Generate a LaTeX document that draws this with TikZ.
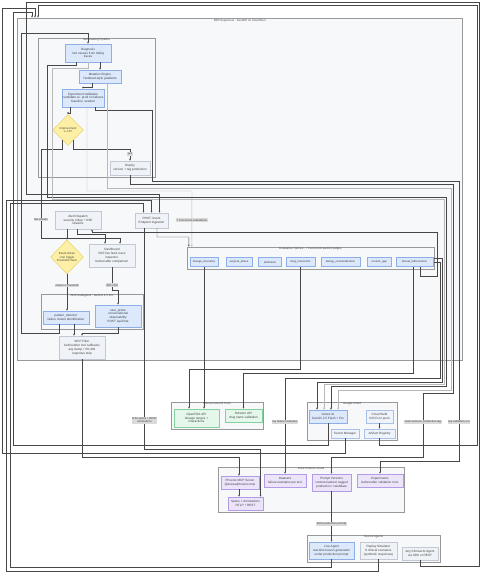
\documentclass[tikz,border=0pt]{standalone}
\usepackage{fontspec}
\setmainfont{Liberation Sans}
\usetikzlibrary{arrows.meta,shapes.geometric}
\pgfdeclarelayer{bg}
\pgfsetlayers{bg,main}
\definecolor{boxblue}{HTML}{DCE8FC}
\definecolor{edgeblue}{HTML}{8DAEE6}
\definecolor{boxgrey}{HTML}{EFF2F6}
\definecolor{edgegrey}{HTML}{C3C9D3}
\definecolor{boxcloud}{HTML}{EEF3FC}
\definecolor{edgecloud}{HTML}{A9C0E8}
\definecolor{boxgreen}{HTML}{E4F7EA}
\definecolor{edgegreen}{HTML}{86CF9F}
\definecolor{boxpurple}{HTML}{ECE4FB}
\definecolor{edgepurple}{HTML}{B49BE6}
\definecolor{boxyellow}{HTML}{FDF0A6}
\definecolor{edgeyellow}{HTML}{E3C952}
\definecolor{clusterfill}{HTML}{F7F8FA}
\definecolor{labelgrey}{HTML}{DADADA}
\tikzset{
	box/.style={draw, line width=0.35pt, align=center, inner sep=0.3pt, text=black!75, font=\fontsize{3.1}{3.8}\selectfont},
	bluebox/.style={box, fill=boxblue, draw=edgeblue},
	greybox/.style={box, fill=boxgrey, draw=edgegrey},
	cloudbox/.style={box, fill=boxcloud, draw=edgecloud},
	greenbox/.style={box, fill=boxgreen, draw=edgegreen},
	purplebox/.style={box, fill=boxpurple, draw=edgepurple},
	judge/.style={bluebox, minimum height=9, font=\fontsize{2.8}{3.4}\selectfont},
	decision/.style={box, shape=diamond, aspect=1, fill=boxyellow, draw=edgeyellow, inner sep=0pt, font=\fontsize{2.9}{3.5}\selectfont},
	cluster/.style={draw=black!40, line width=0.45pt, fill=clusterfill, inner sep=0pt},
	ctitle/.style={font=\fontsize{2.9}{3.4}\selectfont, text=black!70, inner sep=0.6pt, anchor=north},
	link/.style={draw=black!72, line width=0.45pt, -{Latex[length=2pt,width=1.8pt]}},
	faint/.style={link, draw=black!28},
	elabel/.style={fill=labelgrey, text=black!75, font=\fontsize{2.8}{3.3}\selectfont, inner sep=0.6pt, align=center},
}
\begin{document}
\begin{tikzpicture}[x=1pt,y=-1pt]
	\useasboundingbox (0,0) rectangle (481,573);
	\begin{pgfonlayer}{bg}
		\fill[white] (0,0) rectangle (481,573);
		\node[cluster, minimum width=445, minimum height=342] (mio) at (239.5,189) {};
		\node[ctitle] at (240,18.5) {MIO Supervisor · FastAPI on Cloud Run};
		\node[cluster, minimum width=117, minimum height=139] (healing) at (96.5,107.5) {};
		\node[ctitle] at (healing.north) {Self-Healing Pipeline};
		\node[cluster, minimum width=102, minimum height=35] (adk) at (92,311.5) {};
		\node[ctitle] at (adk.north) {ADK Subagents · Gemini 2.5 Pro};
		\node[cluster, minimum width=247, minimum height=22] (evalsvc) at (310.5,258) {};
		\node[ctitle] at (evalsvc.north) {Evaluation Service · 7 concurrent Gemini judges};
		\node[cluster, minimum width=92, minimum height=27] (truth) at (217,415.5) {};
		\node[ctitle] at (truth.north) {Clinical Ground Truth};
		\node[cluster, minimum width=90, minimum height=38] (gcloud) at (352,421) {};
		\node[ctitle] at (gcloud.north) {Google Cloud};
		\node[cluster, minimum width=186, minimum height=45] (phoenix) at (311,489.5) {};
		\node[ctitle] at (phoenix.north) {Arize Phoenix Cloud};
		\node[cluster, minimum width=133, minimum height=27] (sources) at (373.5,548.5) {};
		\node[ctitle] at (sources.north) {Source Agents};
	\end{pgfonlayer}

	\node[bluebox, minimum width=46, minimum height=18] (diag) at (88,53) {Diagnosis\\root causes from failing\\traces};
	\node[bluebox, minimum width=42, minimum height=13] (mutate) at (100,76.5) {Mutation Engine\\TextGrad-style gradients};
	\node[bluebox, minimum width=42, minimum height=18] (expval) at (83,98) {Experiment Validation\\candidate vs. prod on failures\\baseline, seeded};
	\node[decision, minimum width=31, minimum height=31] (improve) at (68,130) {Improvement\\≥ 1.0?};
	\node[greybox, minimum width=40, minimum height=14] (deploy) at (130,168) {Deploy\\version + tag production};

	\node[greybox, minimum width=46, minimum height=18] (alert) at (78,220) {Alert Dispatch\\severity rollup + SSE\\streams};
	\node[greybox, minimum width=33, minimum height=15] (post) at (151.5,220.5) {POST /event\\Endpoint ingestion};
	\node[decision, minimum width=33, minimum height=34] (trigger) at (67,257) {Event-driven\\cron trigger\\threshold check};
	\node[greybox, minimum width=46, minimum height=23] (dash) at (112,255.5) {Dashboard\\SSE live feed, trace\\inspector,\\before/after comparison};
	\node[bluebox, minimum width=46, minimum height=13] (pattern) at (66,317.5) {pattern\_detector\\failure cluster identification};
	\node[bluebox, minimum width=46, minimum height=22] (probe) at (118,316) {user\_probe\\conversational\\observability\\POST /api/chat};
	\node[greybox, minimum width=46, minimum height=23] (mcpf) at (82,347.5) {MCP Filter\\before/after tool callbacks\\arg clamp + 50-400\\response strip};

	\node[judge, minimum width=28] (dosage) at (204,262) {dosage\_boundary};
	\node[judge, minimum width=26] (surgical) at (239,262) {surgical\_phase};
	\node[judge, minimum width=23] (attrib) at (270,262) {attribution};
	\node[judge, minimum width=29] (drug) at (300.5,262) {drug\_interaction};
	\node[judge, minimum width=39] (allergy) at (340.5,262) {allergy\_contraindication};
	\node[judge, minimum width=24] (gap) at (379,262) {content\_gap};
	\node[judge, minimum width=37] (factual) at (414.5,262) {factual\_hallucination};

	\node[greenbox, minimum width=45, minimum height=18] (openfda) at (196.5,418) {OpenFDA API\\dosage ranges +\\interactions};
	\node[greenbox, minimum width=37, minimum height=13] (rxnorm) at (243.5,415.5) {RxNorm API\\drug name validation};

	\node[bluebox, minimum width=38, minimum height=13] (vertex) at (328,416.5) {Vertex AI\\Gemini 2.5 Flash + Pro};
	\node[cloudbox, minimum width=27, minimum height=13] (cbuild) at (379.5,416.5) {Cloud Build\\CI/CD on push};
	\node[cloudbox, minimum width=28, minimum height=9] (secret) at (345,433.5) {Secret Manager};
	\node[cloudbox, minimum width=31, minimum height=9] (artreg) at (379.5,433.5) {Artifact Registry};

	\node[purplebox, minimum width=38, minimum height=13] (pmcp) at (240,482.5) {Phoenix MCP Server\\@arizeai/phoenix-mcp};
	\node[purplebox, minimum width=42, minimum height=13] (datasets) at (285,480.5) {Datasets\\failure examples per tool};
	\node[purplebox, minimum width=39, minimum height=17] (pversions) at (331.5,482.5) {Prompt Versions\\content-hashed, tagged\\production / candidate};
	\node[purplebox, minimum width=46, minimum height=13] (experiments) at (380,480.5) {Experiments\\before/after validation runs};
	\node[purplebox, minimum width=35, minimum height=13] (spans) at (245.5,503.5) {Spans + Annotations\\OTLP + REST};

	\node[bluebox, minimum width=45, minimum height=17] (live) at (331.5,550.5) {Live Agent\\real-time lesson generation\\under production prompt};
	\node[greybox, minimum width=37, minimum height=17] (replay) at (378.5,550.5) {Replay Simulator\\8 clinical scenarios\\(synthetic responses)};
	\node[greybox, minimum width=36, minimum height=13] (anyagent) at (420,553.5) {Any Clinical AI Agent\\via SDK or REST};

	\draw[link] ([xshift=12]diag.south) -- ([xshift=12]diag.south |- mutate.north);
	\draw[link] ([xshift=-8]mutate.south) -- ++(0,4) -| (expval.north);
	\draw[link] ([xshift=-13]expval.south) -- ++(0,6) -| (improve.north);
	\draw[link] (improve.-62) |- (130,149) -- node[elabel, pos=0.42] {yes} (deploy.north);
	\draw[link] (improve.-118) |- (41,149) -- node[elabel, pos=0.79] {fail streaks} (41,238) -| ([xshift=8]dash.north);
	\draw[link] ([xshift=-11]alert.south) -- (trigger.north);
	\draw[link] ([xshift=-1]alert.south) -- ++(0,5) -| ([xshift=-7]dash.north);
	\draw[link] (trigger.south) -- node[elabel, pos=0.3] {cluster ≥ threshold} (trigger.south |- pattern.north);
	\draw[link] (dash.south) -- node[elabel, pos=0.78] {A2A chat} ++(0,23) -| (probe.north);
	\draw[link] ([xshift=8]pattern.south) -- ([xshift=8]pattern.south |- mcpf.north);
	\draw[link] (probe.south) -- ++(0,6) -| (mcpf.north);
	\draw[link] ([xshift=-7]pattern.south) |- (21,333) |- (88,33) -- (diag.north);

	\draw[link] ([xshift=12]expval.south) -- ++(0,3) -| (152,181) -- (459,181) -- node[elabel, pos=0.86] {log validation run} (459,461) -| (experiments.north);
	\draw[link] (deploy.south) |- (453,184) |- (423,393) -- node[elabel, pos=0.45] {read versions, production tag} (423,457) -| (pversions.north);
	\draw[faint] ([xshift=7]mutate.south) |- (451,188) |- (338,390) -- ([xshift=10]vertex.north);
	\draw[faint] ([xshift=4]expval.south) |- (192,191) -- node[elabel, pos=0.52] {7 concurrent evaluations} ([xshift=5]evalsvc.north west);
	\draw[link] ([xshift=-12]diag.south) -- ++(0,3) -| (47,197) -| (446,386) -| ([xshift=3]vertex.north);
	\draw[faint] (diag.south) -- ++(0,6) -| (52,199) -| (444,384) -| ([xshift=-4]vertex.north);
	\draw[link] (evalsvc.east) -| (442,382) -| ([xshift=-11]vertex.north);
	\draw[link] ([yshift=-4]evalsvc.east) -| (440,378) -| node[elabel, pos=0.73] {log failure examples} (datasets.north);
	\draw[link] ([xshift=6]factual.south) -- ++(0,10) -| (437,232) -| ([xshift=14]alert.south);
	\draw[link] ([xshift=5.5]post.south) |- (189,237) -- ([xshift=2]evalsvc.north west);

	\draw[link] (dosage.south) -- (dosage.south |- openfda.north);
	\draw[link] (drug.south) -- (300.5,369) -| ([xshift=-7.5]openfda.north);
	\draw[link] ([xshift=-1]factual.south) -- (413.5,373) -| (rxnorm.north);

	\draw[link] ([xshift=-7]post.south) -- node[elabel, pos=0.87] {OTel spans + REST\\annotations} (144.5,449) -| ([xshift=15]spans.north);
	\draw[link] (mcpf.south) -- (82,457) -| ([xshift=-1]pmcp.north);
	\draw[link] ([xshift=-1]pmcp.south) -- ([xshift=-1]pmcp.south |- spans.north);
	\draw[link] (cbuild.south) -- (artreg.north);
	\draw[link] (pversions.south) -- node[elabel, pos=0.64] {fetch production prompt} (live.north);

	\draw[link] (vertex.south) |- (13,445) |- (32,12) -- (mio.north -| 32,0);
	\draw[link] (secret.south) |- (2,453) |- (35,8) -- (mio.north -| 35,0);
	\draw[link] (artreg.south) |- (477,445) |- (38,5) -- (mio.north -| 38,0);

	\draw[link] (live.south) |- (10,567) |- (143.5,203) -- ([xshift=-8]post.north);
	\draw[link] (replay.south) |- (6,571) |- (151.5,200) -- (post.north);
	\draw[link] (anyagent.south) |- (479,566) |- (26,2) |- (159.5,194) -- ([xshift=8]post.north);
\end{tikzpicture}
\end{document}
